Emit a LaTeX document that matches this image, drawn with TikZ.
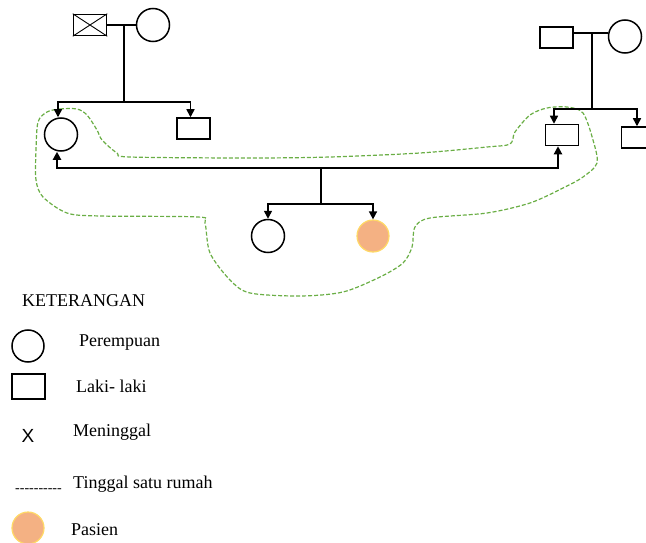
\documentclass[tikz,border=0pt]{standalone}
\usepackage{fontspec}
\setmainfont{Liberation Serif}
\newfontfamily\sansx{Liberation Sans}
\usetikzlibrary{arrows.meta}
\definecolor{housegreen}{HTML}{6AAE45}
\definecolor{patientfill}{HTML}{F4B183}
\definecolor{patientrim}{HTML}{FFD966}
\tikzset{
  x=1pt, y=-1pt,
  female/.style={circle, draw, line width=1.5pt, minimum size=33pt, inner sep=0pt},
  male/.style={rectangle, draw, line width=1.5pt, minimum width=33pt, minimum height=21pt, inner sep=0pt},
  patient/.style={circle, fill=patientfill, draw=patientrim, line width=1.2pt, minimum size=32pt, inner sep=0pt},
  kin/.style={line width=1.5pt},
  child/.style={line width=1.5pt, -{Triangle[length=8pt,width=8pt]}},
  couple/.style={line width=2.8pt, {Triangle[length=8pt,width=8pt]}-{Triangle[length=8pt,width=8pt]}},
  household/.style={draw=housegreen, line width=1.2pt, dash pattern=on 4pt off 2pt},
  legtext/.style={anchor=west, font=\fontsize{18}{20}\selectfont, inner sep=0pt}
}
\begin{document}
\begin{tikzpicture}
\useasboundingbox (0,0) rectangle (646,543);

% household boundary
\draw[household] plot[smooth cycle, tension=0.5] coordinates {
  (47,112) (60,109) (77,109) (87,115) (97,130) (102,140) (117,153) (130,157)
  (250,158) (330,157) (420,153) (487,147) (510,144) (515,132) (530,115)
  (547,108) (567,107) (583,113) (593,140) (597,163) (583,177) (563,188)
  (530,203) (487,213) (430,218) (415,227) (412,247) (403,263) (380,277)
  (343,292) (300,296) (250,293) (230,280) (210,253) (205,223) (198,217)
  (100,216) (67,213) (43,197) (36,180) (36,150) (38,122)};

% paternal grandparents
\node[male] (gf1) at (90,25) {};
\draw[line width=0.9pt] (gf1.north west) -- (gf1.south east) (gf1.south west) -- (gf1.north east);
\node[female] (gm1) at (153,25) {};
\coordinate (m1) at (124,25);
\draw[kin] (gf1.east) -- (gm1.west);

% maternal grandparents
\node[male] (gf2) at (556.5,37.5) {};
\node[female] (gm2) at (625,36.5) {};
\coordinate (m2) at (592,33);
\draw[kin] (gf2.east |- m2) -- (gm2.west |- m2);

% second generation
\node[female] (mother) at (61,134.5) {};
\node[male] (uncle) at (193.5,128.5) {};
\node[male] (father) at (562,135) {};
\node[male] (uncle2) at (638,137.5) {};

\coordinate (b1) at (124,102);
\draw[kin] (m1) -- (b1);
\draw[child] (b1) -| ([xshift=-3pt]mother.north);
\draw[child] (b1) -| ([xshift=-3pt]uncle.north);

\coordinate (b2) at (592,109);
\draw[kin] (m2) -- (b2);
\draw[child] (b2) -| ([xshift=-8pt]father.north);
\draw[child] (b2) -| ([xshift=-1pt]uncle2.north);

% marriage of the parents
\coordinate (c1) at (57,168);
\coordinate (c2) at (558,168);
\draw[couple] ([xshift=-4pt]mother.south) -- (c1) -- (c2) -- ([xshift=-4pt]father.south);

% third generation
\node[female] (sib) at (268,236) {};
\node[patient] (pat) at (373,236) {};
\coordinate (k1) at (321,168);
\coordinate (k2) at (321,204);
\draw[kin] (k1) -- (k2);
\draw[child] (k2) -| (sib.north);
\draw[child] (k2) -| (pat.north);

% legend
\node[legtext] (ket) at (22,301) {KETERANGAN};
\node[female, minimum size=32pt] (lf) at (28,346) {};
\node[legtext] (lft) at (79,343) {Perempuan};
\node[male, minimum width=33pt, minimum height=25pt] (lm) at (28.5,386.5) {};
\node[legtext] (lmt) at (76,386) {Laki- laki};
\node[anchor=center, inner sep=0pt, font=\sansx\fontsize{19}{21}\selectfont] (lx) at (28,436) {X};
\node[legtext] (lxt) at (73,432) {Meninggal};
\node[legtext, font=\fontsize{14}{16}\selectfont] (ld) at (15,491) {\raisebox{-2.2pt}{-{}-{}-{}-{}-{}-{}-{}-{}-{}-}};
\node[legtext] (ldt) at (73,484) {Tinggal satu rumah};
\node[patient] (lp) at (28,528) {};
\node[legtext] (lpt) at (71,530) {Pasien};
\end{tikzpicture}
\end{document}
